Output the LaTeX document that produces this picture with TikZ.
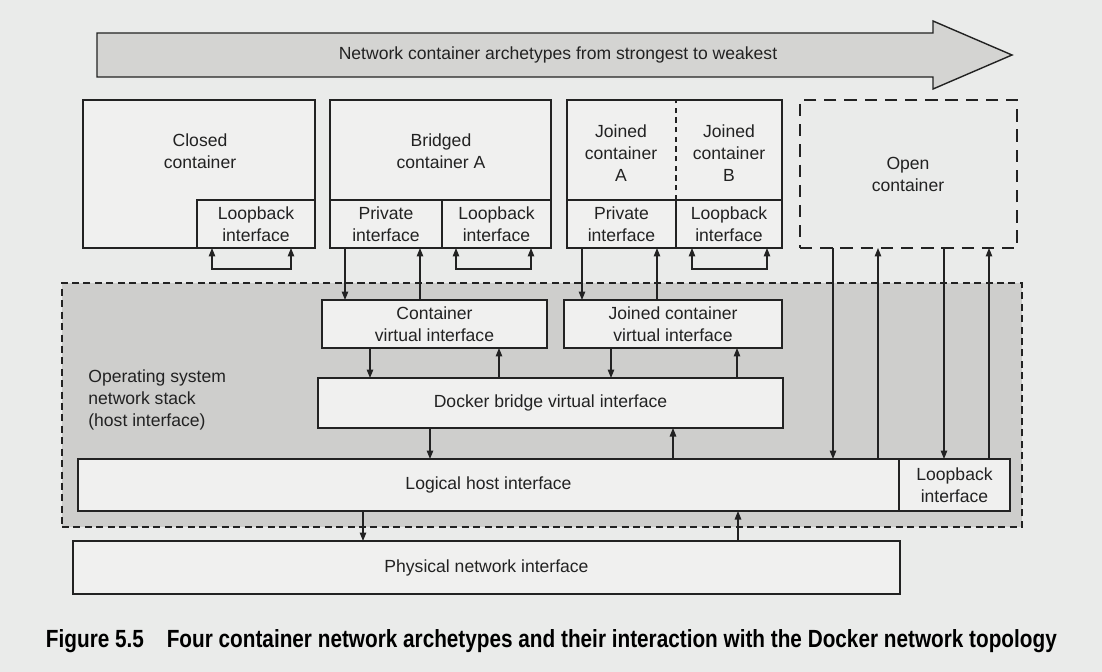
\documentclass[tikz,border=0pt]{standalone}
\usepackage{graphicx}
\usepackage{fontspec}
\setmainfont{Liberation Sans}
\usetikzlibrary{arrows.meta,fit}
\definecolor{bg}{HTML}{EAEBEA}
\definecolor{boxfill}{HTML}{F0F0EF}
\definecolor{osfill}{HTML}{CECECC}
\definecolor{arrfill}{HTML}{D4D4D2}
\definecolor{ink}{HTML}{222222}
\begin{document}
\begin{tikzpicture}[x=0.02cm,y=-0.02cm,
  font=\fontsize{10}{12.5}\selectfont,
  box/.style={draw=ink, fill=boxfill, line width=0.8pt, inner sep=0pt, outer sep=0pt},
  lbl/.style={align=center, text=ink, inner sep=0pt},
  tip/.tip={Triangle[length=1.7mm,width=1.3mm]},
  arr/.style={draw=ink, line width=0.7pt, -tip},
  twoway/.style={draw=ink, line width=0.7pt, tip-tip}]
\useasboundingbox (0,0) rectangle (1102,672);
\fill[bg] (0,0) rectangle (1102,672);

% operating system region
\node[draw=ink, fill=osfill, dash pattern=on 4pt off 2.5pt, line width=0.6pt, inner sep=0pt, outer sep=0pt,
      fit={(62,283) (1022,527)}] (os) {};
\node[lbl, align=left, anchor=west] (oslbl) at (88,400) {Operating system\\network stack\\(host interface)};

% top arrow
\filldraw[fill=arrfill, draw=ink, line width=0.8pt]
  (97,33) -- (933,33) -- (933,21) -- (1012,55) -- (933,89) -- (933,77) -- (97,77) -- cycle;
\node[lbl] (archlabel) at (558,55) {Network container archetypes from strongest to weakest};

% closed container
\node[box, fit={(83,100) (315,248)}] (closed) {};
\node[lbl] (closedlbl) at (200,151) {Closed\\container};
\node[box, fit={(197,200) (315,248)}] (closedlb) {};
\node[lbl] (closedlbt) at (closedlb.center) {Loopback\\interface};

% bridged container
\node[box, fit={(330,100) (551,248)}] (bridged) {};
\node[lbl] (bridgedlbl) at (441,151) {Bridged\\container A};
\node[box, fit={(330,200) (442,248)}] (privA) {};
\node[lbl] (privAt) at (privA.center) {Private\\interface};
\node[box, fit={(442,200) (551,248)}] (loopA) {};
\node[lbl] (loopAt) at (loopA.center) {Loopback\\interface};

% joined containers
\node[box, fit={(567,100) (782,248)}] (joined) {};
\node[lbl] (joinedAlbl) at (621,153) {Joined\\container\\A};
\node[lbl] (joinedBlbl) at (729,153) {Joined\\container\\B};
\node[box, fit={(567,200) (676,248)}] (privJ) {};
\node[lbl] (privJt) at (privJ.center) {Private\\interface};
\node[box, fit={(676,200) (782,248)}] (loopJ) {};
\node[lbl] (loopJt) at (loopJ.center) {Loopback\\interface};
\draw[ink, line width=0.6pt, dash pattern=on 3pt off 2.5pt] (privJ.north east) -- (privJ.east |- joined.north);

% open container
\node[draw=ink, dash pattern=on 7pt off 4.5pt, line width=0.7pt, inner sep=0pt, outer sep=0pt,
      fit={(800,100) (1017,248)}] (open) {};
\node[lbl] (openlbl) at (908,174) {Open\\container};

% interfaces in the OS stack
\node[box, fit={(322,300) (547,348)}] (cvi) {};
\node[lbl] (cvit) at (cvi.center) {Container\\virtual interface};
\node[box, fit={(564,300) (782,348)}] (jvi) {};
\node[lbl] (jvit) at (jvi.center) {Joined container\\virtual interface};
\node[box, fit={(318,378) (783,428)}] (docker) {};
\node[lbl] (dockert) at (docker.center) {Docker bridge virtual interface};
\node[box, fit={(78,459) (899,511)}] (logical) {};
\node[lbl] (logicalt) at (logical.center) {Logical host interface};
\node[box, fit={(899,459) (1010,511)}] (hostlb) {};
\node[lbl] (hostlbt) at (hostlb.center) {Loopback\\interface};
\node[box, fit={(73,541) (900,594)}] (physical) {};
\node[lbl] (physicalt) at (physical.center) {Physical network interface};

% column coordinates
\coordinate (l1a) at (212,269); \coordinate (l1b) at (291,269);
\coordinate (l2a) at (456,269); \coordinate (l2b) at (531,269);
\coordinate (l3a) at (692,269); \coordinate (l3b) at (767,269);
\coordinate (cpa) at (345,0);  \coordinate (cpb) at (420,0);
\coordinate (cja) at (582,0);  \coordinate (cjb) at (657,0);
\coordinate (cva) at (370,0);  \coordinate (cvb) at (499,0);
\coordinate (cwa) at (611,0);  \coordinate (cwb) at (737,0);
\coordinate (cda) at (430,0);  \coordinate (cdb) at (673,0);
\coordinate (coa) at (833,0);  \coordinate (cob) at (878,0);
\coordinate (coc) at (944,0);  \coordinate (cod) at (989,0);
\coordinate (cla) at (363,0);  \coordinate (clb) at (738,0);

% loopback loops
\draw[twoway] (l1a |- closedlb.south) -- (l1a) -- (l1b) -- (l1b |- closedlb.south);
\draw[twoway] (l2a |- loopA.south) -- (l2a) -- (l2b) -- (l2b |- loopA.south);
\draw[twoway] (l3a |- loopJ.south) -- (l3a) -- (l3b) -- (l3b |- loopJ.south);

% private interfaces <-> virtual interfaces
\draw[arr] (cpa |- privA.south) -- (cpa |- cvi.north);
\draw[arr] (cpb |- cvi.north) -- (cpb |- privA.south);
\draw[arr] (cja |- privJ.south) -- (cja |- jvi.north);
\draw[arr] (cjb |- jvi.north) -- (cjb |- privJ.south);

% virtual interfaces <-> docker bridge
\draw[arr] (cva |- cvi.south) -- (cva |- docker.north);
\draw[arr] (cvb |- docker.north) -- (cvb |- cvi.south);
\draw[arr] (cwa |- jvi.south) -- (cwa |- docker.north);
\draw[arr] (cwb |- docker.north) -- (cwb |- jvi.south);

% docker bridge <-> logical host
\draw[arr] (cda |- docker.south) -- (cda |- logical.north);
\draw[arr] (cdb |- logical.north) -- (cdb |- docker.south);

% open container <-> host
\draw[arr] (coa |- open.south) -- (coa |- logical.north);
\draw[arr] (cob |- logical.north) -- (cob |- open.south);
\draw[arr] (coc |- open.south) -- (coc |- hostlb.north);
\draw[arr] (cod |- hostlb.north) -- (cod |- open.south);

% logical host <-> physical
\draw[arr] (cla |- logical.south) -- (cla |- physical.north);
\draw[arr] (clb |- physical.north) -- (clb |- logical.south);

% caption
\node[anchor=base west, inner sep=0pt, outer sep=0pt, text=black] (caption) at (46,647)
  {\resizebox{20.22cm}{0.36cm}{\bfseries Figure 5.5\hspace{1.1em}Four container network archetypes and their interaction with the Docker network topology}};
\end{tikzpicture}
\end{document}
